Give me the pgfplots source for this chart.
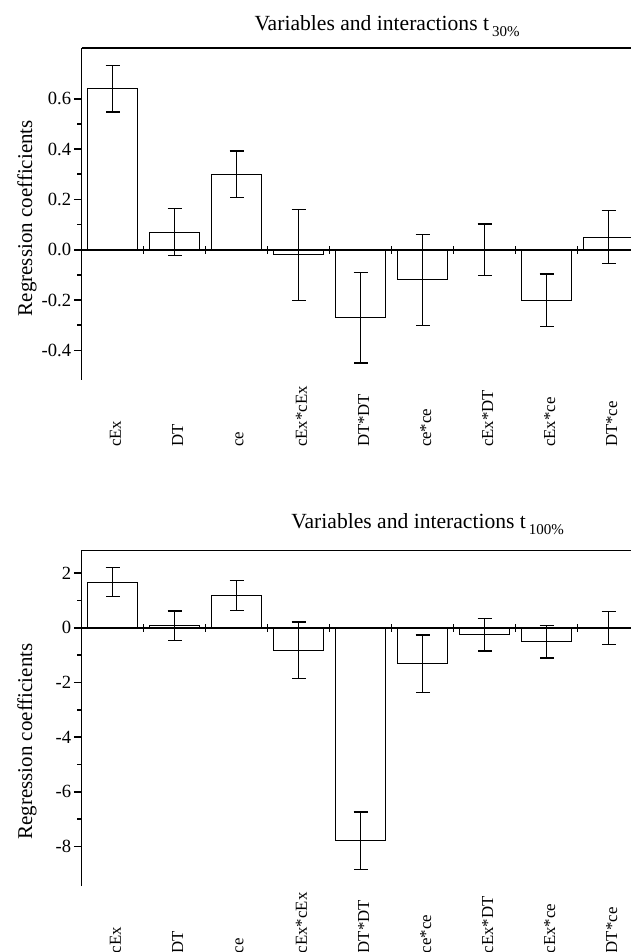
\documentclass[border=0pt]{standalone}
\usepackage{fontspec}
\setmainfont{Liberation Serif}
\usepackage{pgfplots}
\pgfplotsset{compat=1.18}
\begin{document}
\begin{tikzpicture}
\pgfplotsset{
  panel/.style={
    scale only axis, width=274.75pt,
    xmin=-0.5, xmax=8.36,
    axis line style={-, line width=0.9pt},
  },
  dataaxis/.style={
    panel,
    axis x line*=bottom, axis y line*=left,
    x axis line style={draw=none},
    xtick={0,...,8},
    xticklabels={cEx,DT,ce,cEx*cEx,DT*DT,ce*ce,cEx*DT,cEx*ce,DT*ce},
    xticklabel pos=left, xtick pos=left,
    major x tick style={draw=none},
    xticklabel style={xshift=1.5pt, yshift=-33.3pt, rotate=90, anchor=west, font=\fontsize{8.4}{10}\selectfont},
    tick align=outside, ytick pos=left,
    major tick length=3.8pt, minor tick length=2.2pt,
    minor y tick num=1,
    every tick/.style={line width=0.8pt, black},
    yticklabel style={inner sep=1.2pt, font=\fontsize{9.3}{10}\selectfont, /pgf/number format/assume math mode=true},
    ylabel={Regression coefficients},
    every axis y label/.style={rotate=90, anchor=center, font=\fontsize{10.5}{12}\selectfont},
  },
  zeroaxis/.style={
    panel,
    axis x line=middle, axis y line=none,
    every inner x axis line/.style={-},
    x axis line style={-, line width=0.9pt},
    xtick={0.5,1.5,...,7.5}, xticklabels={},
    tick align=center, major tick length=3.8pt,
    every tick/.style={line width=0.8pt, black},
    ytick=\empty,
  },
  bars/.style={ybar, bar width=0.8, fill=white, draw=black, line width=0.55pt,
    error bars/.cd, y dir=both, y explicit,
    error bar style={line width=0.7pt, black},
    error mark options={rotate=90, line width=0.7pt, mark size=3.5pt, black}},
}
% ---------- top panel ----------
\begin{axis}[dataaxis, at={(40.75pt,-24pt)}, anchor=north west, height=165.9pt,
  ymin=-0.517, ymax=0.802, ytick={-0.4,-0.2,0,0.2,0.4,0.6},
  yticklabel style={/pgf/number format/fixed, /pgf/number format/fixed zerofill, /pgf/number format/precision=1},
  every axis y label/.append style={at={(axis description cs:-0.099,0.487)}},
  title={Variables and interactions t\hspace{1.5pt}\raisebox{-3pt}{\fontsize{7.5}{8}\selectfont 30\%}},
  every axis title/.style={at={(axis description cs:0.556,1)}, anchor=base, yshift=8.5pt, font=\fontsize{10.8}{12}\selectfont}]
\addplot[bars] coordinates {
 (0,0.64) +- (0,0.093)
 (1,0.07) +- (0,0.094)
 (2,0.30) +- (0,0.093)
 (3,-0.02) +- (0,0.181)
 (4,-0.27) +- (0,0.180)
 (5,-0.12) +- (0,0.180)
 (6,0.00) +- (0,0.103)
 (7,-0.20) +- (0,0.104)
 (8,0.05) +- (0,0.105)
};
\draw[line width=0.9pt] (rel axis cs:0,1) -- (rel axis cs:1,1);
\end{axis}
\begin{axis}[zeroaxis, at={(40.75pt,-24pt)}, anchor=north west, height=165.9pt,
  ymin=-0.517, ymax=0.802]
\end{axis}
% ---------- bottom panel ----------
\begin{axis}[dataaxis, at={(40.75pt,-275pt)}, anchor=north west, height=168pt,
  ymin=-9.45, ymax=2.85, ytick={-8,-6,-4,-2,0,2},
  every axis y label/.append style={at={(axis description cs:-0.099,0.43)}},
  title={Variables and interactions t\hspace{1.5pt}\raisebox{-3pt}{\fontsize{7.5}{8}\selectfont 100\%}},
  every axis title/.style={at={(axis description cs:0.63,1)}, anchor=base, yshift=11pt, font=\fontsize{10.8}{12}\selectfont}]
\addplot[bars] coordinates {
 (0,1.67) +- (0,0.53)
 (1,0.08) +- (0,0.54)
 (2,1.18) +- (0,0.55)
 (3,-0.82) +- (0,1.04)
 (4,-7.79) +- (0,1.05)
 (5,-1.31) +- (0,1.05)
 (6,-0.25) +- (0,0.60)
 (7,-0.51) +- (0,0.60)
 (8,0.00) +- (0,0.60)
};
\draw[line width=0.9pt] (rel axis cs:0,1) -- (rel axis cs:1,1);
\end{axis}
\begin{axis}[zeroaxis, at={(40.75pt,-275pt)}, anchor=north west, height=168pt,
  ymin=-9.45, ymax=2.85]
\end{axis}
\pgfresetboundingbox
\useasboundingbox (0,0) rectangle (315.5pt,-476pt);
\end{tikzpicture}
\end{document}
